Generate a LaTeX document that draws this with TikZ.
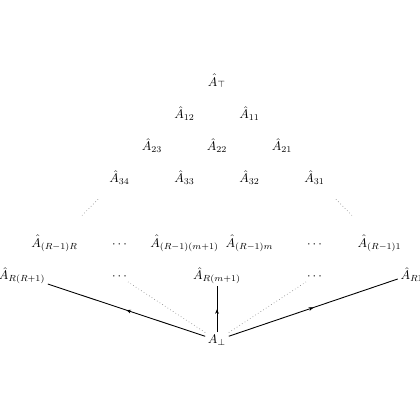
\documentclass[tikz,border=0pt]{standalone}
\usetikzlibrary{arrows.meta,decorations.markings,calc}
\begin{document}
\begin{tikzpicture}[x=0.79pt,y=-0.79pt,
  lbl/.style={anchor=base,inner sep=2pt},
  solidarrow/.style={line width=0.7pt,postaction={decorate},
    decoration={markings,mark=at position 0.5 with {\arrow{Stealth[length=3.5pt,width=3pt]}}}},
  dotline/.style={dotted,gray,line width=0.5pt}]
\useasboundingbox (0,0) rectangle (420,420);
\def\cx{217}\def\dx{32.5}
% rows (baselines)
\node[lbl] (top) at (217,86) {$\hat A_\top$};
\node[lbl] (a12) at (184.5,118.2) {$\hat A_{12}$};
\node[lbl] (a11) at (249.5,118.2) {$\hat A_{11}$};
\node[lbl] (a23) at (152,150.4) {$\hat A_{23}$};
\node[lbl] (a22) at (217,150.4) {$\hat A_{22}$};
\node[lbl] (a21) at (282,150.4) {$\hat A_{21}$};
\node[lbl] (a34) at (119.5,182.6) {$\hat A_{34}$};
\node[lbl] (a33) at (184.5,182.6) {$\hat A_{33}$};
\node[lbl] (a32) at (249.5,182.6) {$\hat A_{32}$};
\node[lbl] (a31) at (314.5,182.6) {$\hat A_{31}$};
\node[lbl] (bR) at (54.5,247) {$\hat A_{(R-1)R}$};
\node[lbl] (bdl) at (119.5,247) {$\cdots$};
\node[lbl] (bm1) at (184.5,247) {$\hat A_{(R-1)(m+1)}$};
\node[lbl] (bm) at (249.5,247) {$\hat A_{(R-1)m}$};
\node[lbl] (bdr) at (314.5,247) {$\cdots$};
\node[lbl] (b1) at (379.5,247) {$\hat A_{(R-1)1}$};
\node[lbl] (cR) at (22,279.2) {$\hat A_{R(R+1)}$};
\node[lbl] (cdl) at (119.5,279.2) {$\cdots$};
\node[lbl] (cm) at (217,279.2) {$\hat A_{R(m+1)}$};
\node[lbl] (cdr) at (314.5,279.2) {$\cdots$};
\node[lbl] (c1) at (412,279.2) {$\hat A_{R1}$};
\node[lbl] (bot) at (217,343.6) {$A_\bot$};
% dotted fragments
\draw[dotline] ($(a34)!0.33!(bR)$) -- ($(a34)!0.6!(bR)$);
\draw[dotline] ($(a31)!0.33!(b1)$) -- ($(a31)!0.6!(b1)$);
\draw[dotline] (bot) -- (cdl);
\draw[dotline] (bot) -- (cdr);
% solid arrows
\draw[solidarrow] (bot) -- (cR);
\draw[solidarrow] (bot) -- (cm);
\draw[solidarrow] (bot) -- (c1);
\end{tikzpicture}
\end{document}
